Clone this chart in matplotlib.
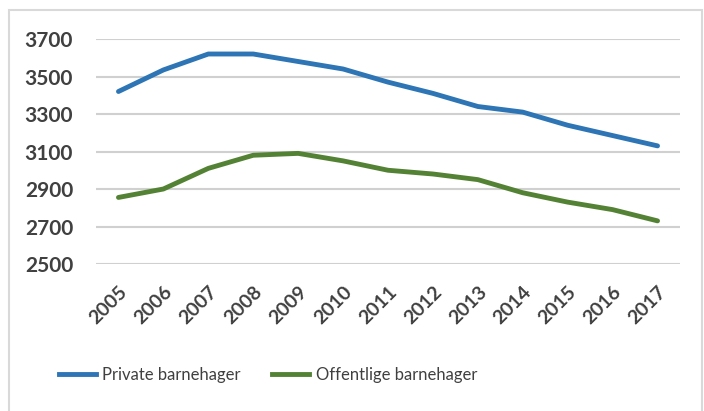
import matplotlib
matplotlib.use("Agg")
import matplotlib.pyplot as plt
from matplotlib.patches import Rectangle
from matplotlib.lines import Line2D

years = ["2005", "2006", "2007", "2008", "2009", "2010", "2011", "2012", "2013", "2014", "2015", "2016", "2017"]
private = [3420, 3535, 3620, 3620, 3580, 3540, 3470, 3410, 3340, 3310, 3240, 3185, 3130]
public = [2855, 2900, 3010, 3080, 3090, 3050, 3000, 2980, 2950, 2880, 2830, 2790, 2730]
yticks = [2500, 2700, 2900, 3100, 3300, 3500, 3700]
series_names = ["Private barnehager", "Offentlige barnehager"]

plt.rcParams['font.family'] = ['Lato', 'DejaVu Sans']

fig = plt.figure(figsize=(7.04, 4.11), dpi=100)
ax = fig.add_axes([96/704, 1-264/411, (680-96)/704, (264-39)/411])

x = list(range(len(years)))
blue = "#2E75B6"
green = "#548235"
ax.plot(x, private, color=blue, lw=3.5, solid_capstyle='round', solid_joinstyle='round')
ax.plot(x, public, color=green, lw=3.5, solid_capstyle='round', solid_joinstyle='round')

ax.set_xlim(-0.5, len(years) - 0.5)
ax.set_ylim(2500, 3700)
ax.set_yticks(yticks)
ax.set_yticklabels([str(v) for v in yticks], fontsize=15, fontweight='bold', color='#404040')
ax.set_xticks(x)
ax.set_xticklabels(years, rotation=45, ha='right', rotation_mode='anchor',
                   fontsize=14, fontweight='bold', color='#404040')
ax.tick_params(axis='both', length=0)
ax.tick_params(axis='y', pad=16.5)
ax.tick_params(axis='x', pad=14)
ax.grid(axis='y', color='#D0D0D0', lw=1.5)
ax.set_axisbelow(True)
for s in ax.spines.values():
    s.set_visible(False)

handles = [Line2D([0], [0], color=blue, lw=3.5), Line2D([0], [0], color=green, lw=3.5)]
fig.legend(handles, series_names, loc='center', bbox_to_anchor=(268/704, 1-375/411),
           ncol=2, frameon=False, handlelength=2.2, handletextpad=0.4,
           columnspacing=1.9, labelcolor='#404040',
           prop={'family': ['Lato', 'DejaVu Sans'], 'size': 12})

fig.patches.append(Rectangle((9/704, -0.05), (702-9)/704, 1.05 - 10/411, transform=fig.transFigure,
                             fill=False, edgecolor='#D9D9D9', lw=1.5))

fig.savefig("out.png", dpi=100)
